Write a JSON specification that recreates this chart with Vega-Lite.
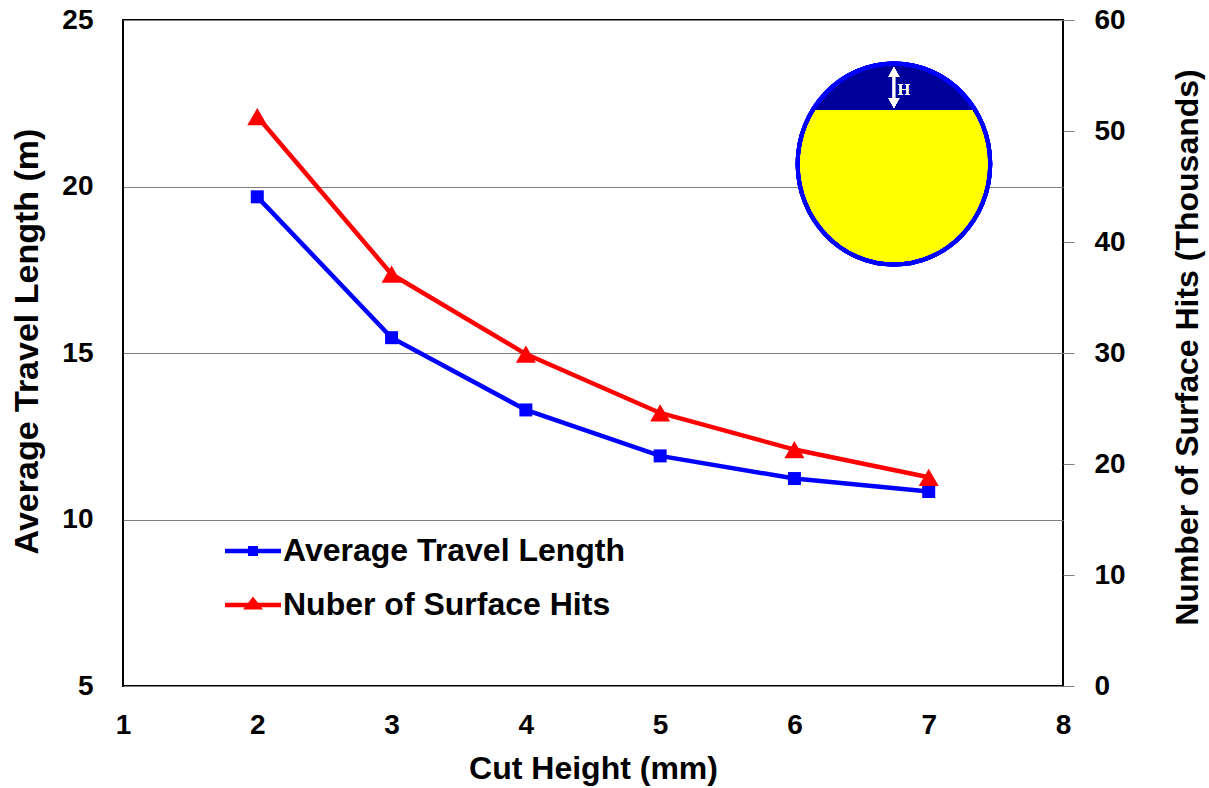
{
  "$schema": "https://vega.github.io/schema/vega-lite/v6.json",
  "width": 940,
  "height": 666,
  "autosize": {"type": "none"},
  "padding": {"left": 123, "top": 20, "right": 146, "bottom": 102},
  "background": "#ffffff",
  "config": {
    "font": "Liberation Sans",
    "view": {"stroke": "#000000", "strokeWidth": 2},
    "axis": {
      "labelFont": "Liberation Sans",
      "labelFontWeight": "bold",
      "labelFontSize": 28,
      "labelColor": "#000000",
      "labelFlush": false,
      "labelOverlap": false,
      "titleFont": "Liberation Sans",
      "titleFontWeight": "bold",
      "titleFontSize": 32,
      "titleColor": "#000000",
      "domain": false
    },
    "legend": {
      "labelFont": "Liberation Sans",
      "labelFontWeight": "bold",
      "labelFontSize": 32,
      "labelColor": "#000000",
      "labelLimit": 600
    }
  },
  "data": {
    "values": [
      {"cut": 2, "avg_travel_m": 19.69, "hits_thousands": 51.3},
      {"cut": 3, "avg_travel_m": 15.46, "hits_thousands": 37.1},
      {"cut": 4, "avg_travel_m": 13.29, "hits_thousands": 29.9},
      {"cut": 5, "avg_travel_m": 11.91, "hits_thousands": 24.6},
      {"cut": 6, "avg_travel_m": 11.23, "hits_thousands": 21.3},
      {"cut": 7, "avg_travel_m": 10.84, "hits_thousands": 18.8}
    ]
  },
  "encoding": {
    "x": {
      "field": "cut",
      "type": "quantitative",
      "scale": {"domain": [1, 8], "nice": false, "zero": false},
      "axis": {
        "values": [1, 2, 3, 4, 5, 6, 7, 8],
        "format": "d",
        "grid": false,
        "ticks": false,
        "tickSize": 0,
        "labelPadding": 25,
        "title": "Cut Height (mm)",
        "titleY": 82,
        "titleBaseline": "middle"
      }
    }
  },
  "layer": [
    {
      "encoding": {
        "y": {
          "field": "avg_travel_m",
          "type": "quantitative",
          "scale": {"domain": [5, 25], "nice": false, "zero": false},
          "axis": {
            "orient": "left",
            "values": [5, 10, 15, 20, 25],
            "grid": true,
            "gridColor": "#808080",
            "gridWidth": 1,
            "ticks": false,
            "tickSize": 0,
            "labelPadding": 30,
            "title": "Average Travel Length (m)",
            "titleFontSize": 34,
            "titleX": -96,
            "titleY": 321,
            "titleBaseline": "middle"
          }
        }
      },
      "layer": [
        {
          "mark": {"type": "line", "color": "#0000FF", "strokeWidth": 4.5}
        },
        {
          "mark": {"type": "point", "shape": "square", "filled": true, "color": "#0000FF", "size": 169, "opacity": 1}
        },
        {
          "description": "legend key: line-with-marker glyphs for both series",
          "mark": {"type": "point", "filled": true, "size": 400, "opacity": 0},
          "encoding": {
            "color": {
              "datum": "Average Travel Length",
              "scale": {
                "domain": ["Average Travel Length", "Nuber of Surface Hits"],
                "range": ["#0000FF", "#FF0000"]
              },
              "legend": {
                "title": null,
                "orient": "none",
                "legendX": 114,
                "legendY": 515,
                "padding": 0,
                "rowPadding": 22,
                "symbolSize": 400,
                "symbolOpacity": 1,
                "symbolStrokeWidth": 0,
                "labelOffset": 14,
                "labelBaseline": "middle"
              }
            },
            "shape": {
              "datum": "Average Travel Length",
              "scale": {
                "domain": ["Average Travel Length", "Nuber of Surface Hits"],
                "range": [
                  "M-2.8,-0.22H2.8V0.22H-2.8Z M-0.5,-0.5H0.5V0.5H-0.5Z",
                  "M-2.8,-0.22H2.8V0.22H-2.8Z M0,-0.85L1,0.45H-1Z"
                ]
              },
              "legend": {
                "title": null,
                "orient": "none",
                "legendX": 114,
                "legendY": 515,
                "padding": 0,
                "rowPadding": 22,
                "symbolSize": 400,
                "symbolOpacity": 1,
                "symbolStrokeWidth": 0,
                "labelOffset": 14,
                "labelBaseline": "middle"
              }
            }
          }
        },
        {
          "mark": {
            "type": "point",
            "shape": "M-0.958,0A0.958,1,0,1,0,0.958,0A0.958,1,0,1,0,-0.958,0Z",
            "filled": true,
            "color": "#FFFF00",
            "size": 40401,
            "opacity": 1
          },
          "encoding": {
            "x": {"datum": 6.741, "type": "quantitative"},
            "y": {"datum": 20.676, "type": "quantitative"}
          }
        },
        {
          "mark": {
            "type": "point",
            "shape": "M-0.808,-0.537A0.958,1,0,0,1,0.808,-0.537Z",
            "filled": true,
            "color": "#00009A",
            "size": 40401,
            "opacity": 1
          },
          "encoding": {
            "x": {"datum": 6.741, "type": "quantitative"},
            "y": {"datum": 20.676, "type": "quantitative"}
          }
        },
        {
          "mark": {
            "type": "point",
            "shape": "M0,-0.965L0.055,-0.865L0.012,-0.865L0.012,-0.657L0.055,-0.657L0,-0.557L-0.055,-0.657L-0.012,-0.657L-0.012,-0.865L-0.055,-0.865Z",
            "filled": true,
            "color": "#FFFFFF",
            "size": 40401,
            "opacity": 1
          },
          "encoding": {
            "x": {"datum": 6.741, "type": "quantitative"},
            "y": {"datum": 20.676, "type": "quantitative"}
          }
        },
        {
          "mark": {
            "type": "text",
            "text": "H",
            "font": "Liberation Serif",
            "fontSize": 17,
            "color": "#FFFFFF",
            "dx": 10,
            "dy": -74,
            "align": "center",
            "baseline": "middle"
          },
          "encoding": {
            "x": {"datum": 6.741, "type": "quantitative"},
            "y": {"datum": 20.676, "type": "quantitative"}
          }
        },
        {
          "mark": {
            "type": "point",
            "shape": "M-0.958,0A0.958,1,0,1,0,0.958,0A0.958,1,0,1,0,-0.958,0Z",
            "filled": false,
            "color": "#0000FF",
            "strokeWidth": 4,
            "size": 40401,
            "opacity": 1
          },
          "encoding": {
            "x": {"datum": 6.741, "type": "quantitative"},
            "y": {"datum": 20.676, "type": "quantitative"}
          }
        }
      ]
    },
    {
      "encoding": {
        "y": {
          "field": "hits_thousands",
          "type": "quantitative",
          "scale": {"domain": [0, 60], "nice": false, "zero": false},
          "axis": {
            "orient": "right",
            "values": [0, 10, 20, 30, 40, 50, 60],
            "grid": false,
            "ticks": true,
            "tickColor": "#808080",
            "tickWidth": 1,
            "tickSize": 11,
            "labelPadding": 20,
            "title": "Number of Surface Hits (Thousands)",
            "titleAngle": 270,
            "titleX": 124,
            "titleY": 327,
            "titleBaseline": "middle"
          }
        }
      },
      "layer": [
        {
          "mark": {"type": "line", "color": "#FF0000", "strokeWidth": 4.5}
        },
        {
          "mark": {"type": "point", "shape": "triangle-up", "filled": true, "color": "#FF0000", "size": 400, "opacity": 1}
        }
      ]
    }
  ],
  "resolve": {"scale": {"y": "independent"}}
}
